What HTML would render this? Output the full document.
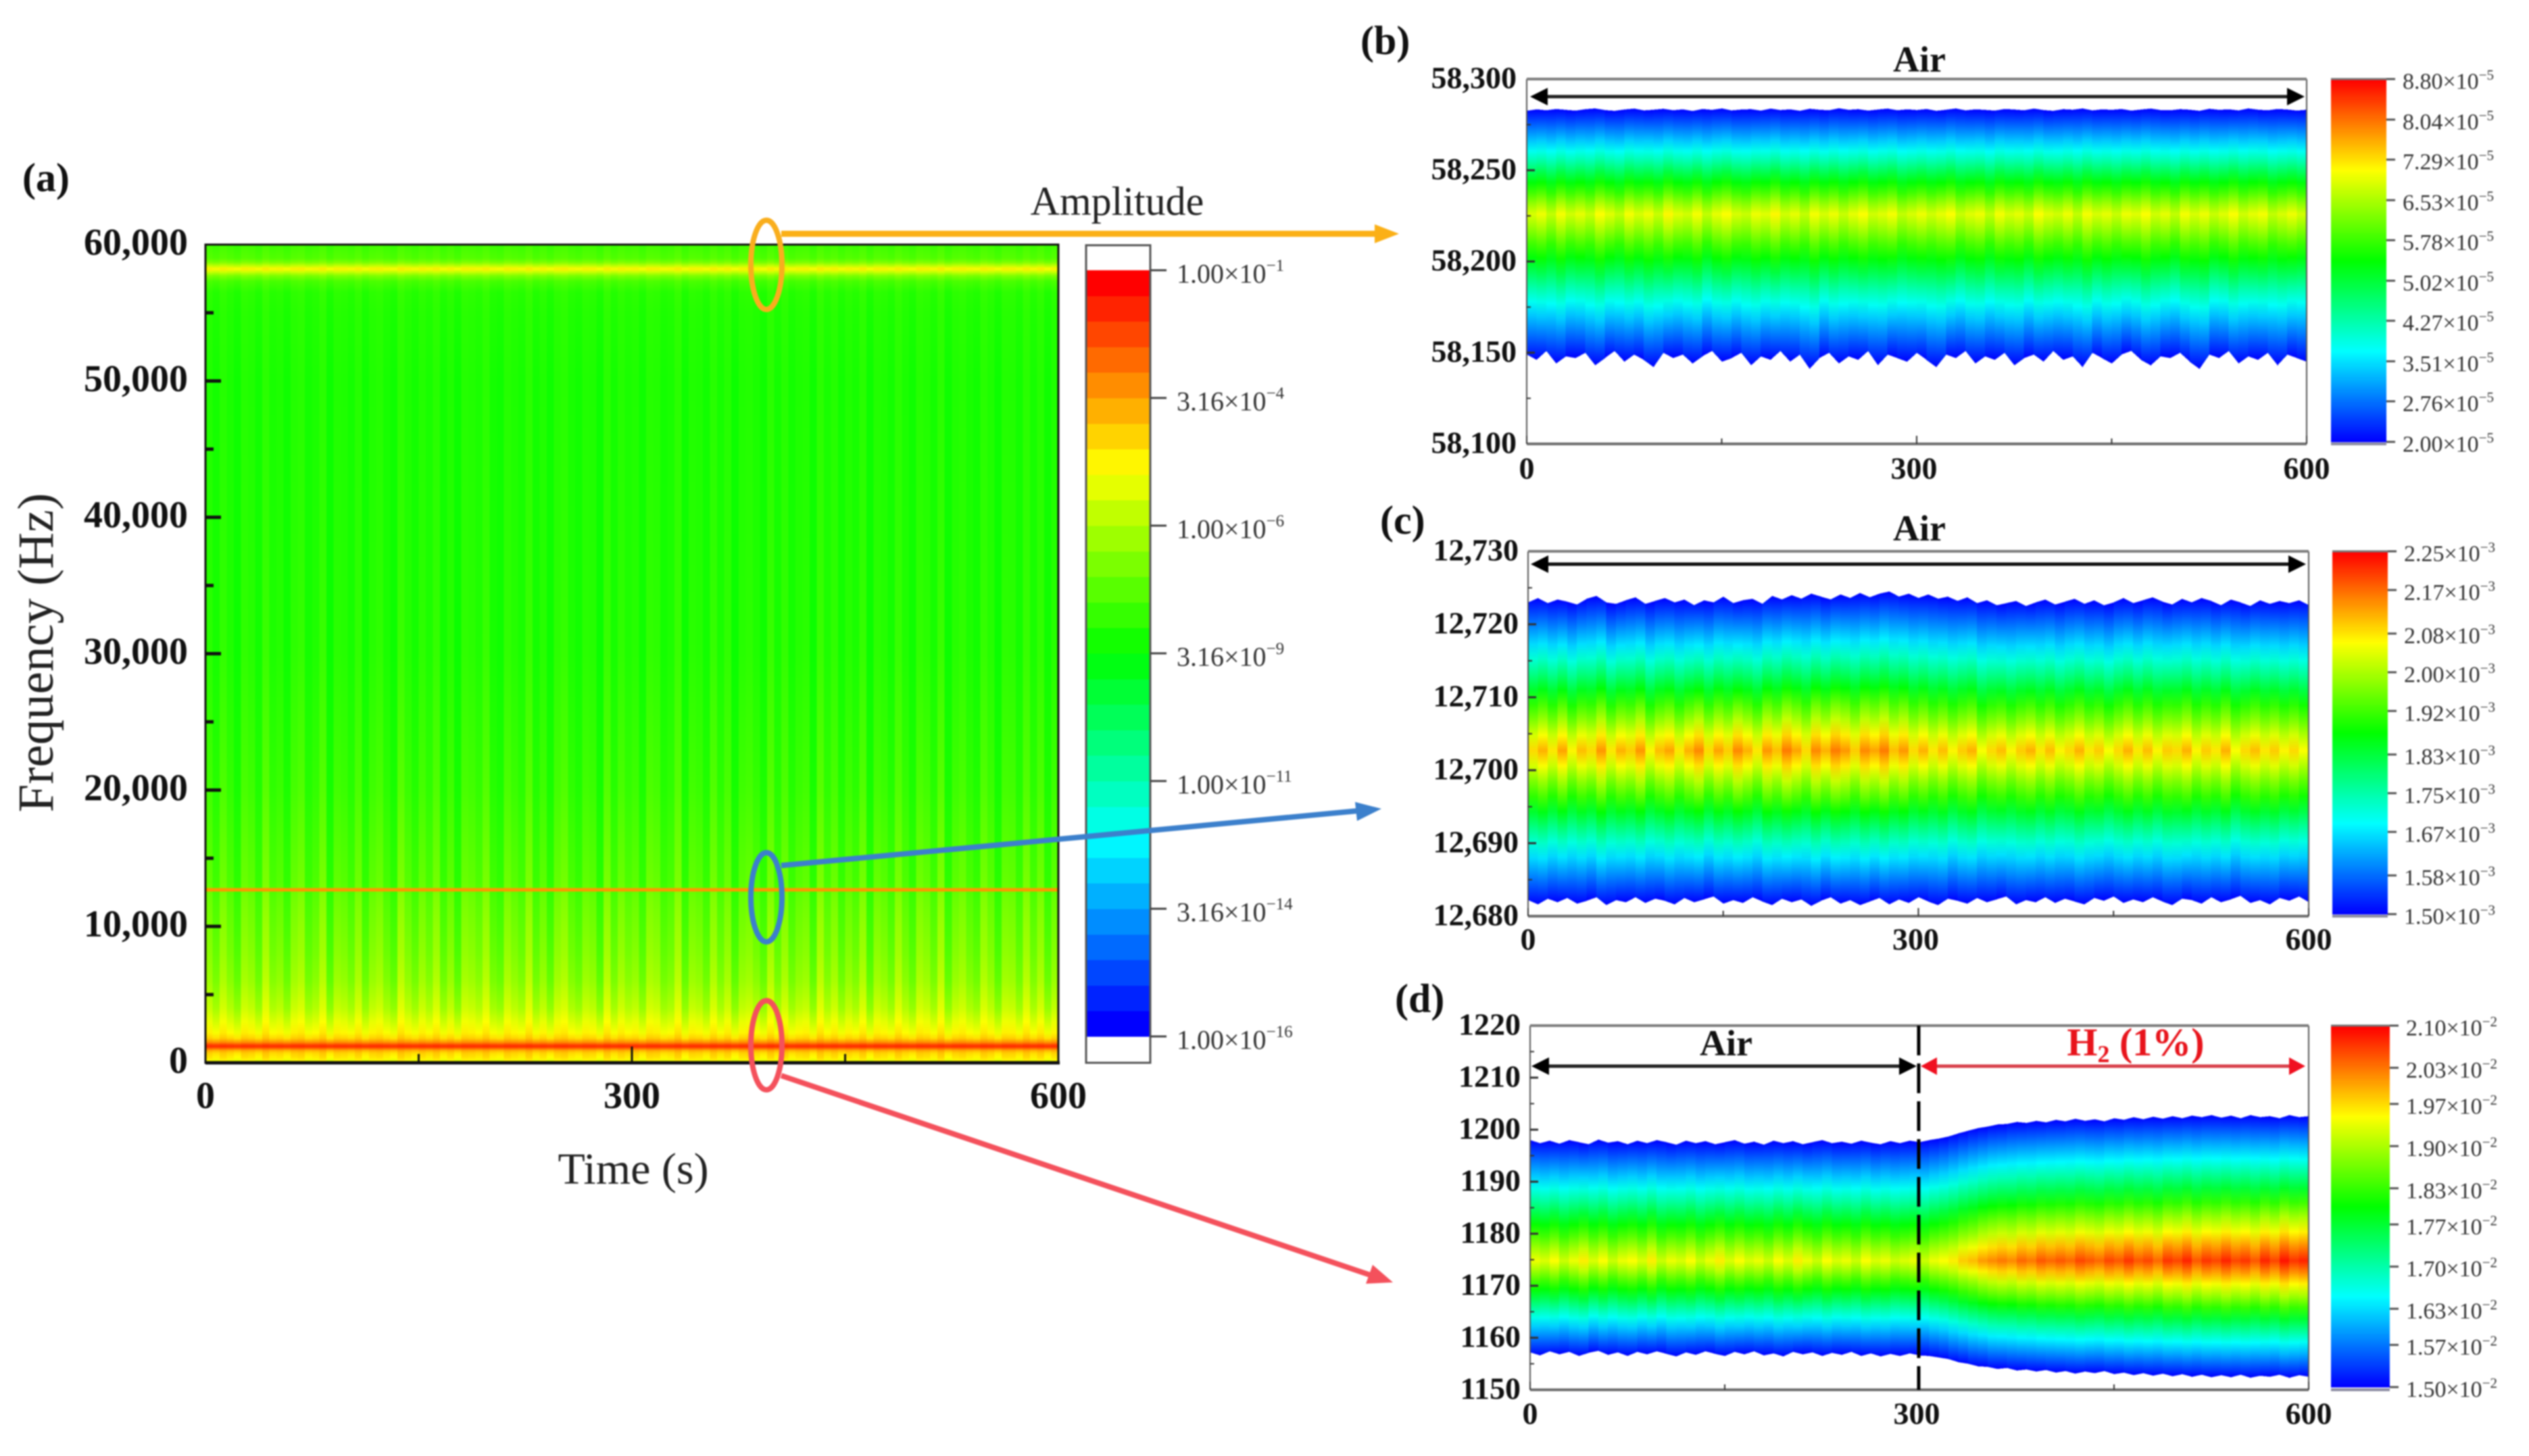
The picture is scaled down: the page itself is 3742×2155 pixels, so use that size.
<!DOCTYPE html>
<html lang="en">
<head>
<meta charset="utf-8">
<title>Spectrogram of resonance response in air and hydrogen</title>
<style>
html,body{margin:0;padding:0;background:#fff;}
svg{display:block;font-family:"Liberation Serif","Times New Roman",serif;filter:blur(1px);}
.tick{font-weight:bold;fill:#111;}
.cb{fill:#333;}
</style>
</head>
<body>
<svg id="figure" xmlns="http://www.w3.org/2000/svg" width="3742" height="2155" viewBox="0 0 3742 2155">
<rect width="3742" height="2155" fill="#fff"/>
<defs id="gradients"></defs>
<g id="panel-a"></g>
<g id="panel-b"></g>
<g id="panel-c"></g>
<g id="panel-d"></g>

<text x="33" y="283" font-size="60" font-weight="bold" fill="#111">(a)</text>
<text x="2013" y="80" font-size="60" font-weight="bold" fill="#111">(b)</text>
<text x="2042" y="790" font-size="60" font-weight="bold" fill="#111">(c)</text>
<text x="2064" y="1498" font-size="60" font-weight="bold" fill="#111">(d)</text>
<text transform="translate(78,966) rotate(-90)" text-anchor="middle" font-size="75" fill="#222">Frequency (Hz)</text>
<text x="937" y="1752" text-anchor="middle" font-size="66" fill="#222">Time (s)</text>
<text x="1653" y="318" text-anchor="middle" font-size="60" fill="#222">Amplitude</text>

<text x="2840" y="106" text-anchor="middle" font-size="54" font-weight="bold" fill="#111">Air</text>
<line x1="2280" y1="143" x2="3396" y2="143" stroke="#222" stroke-width="5"/>
<polygon points="2264,143 2290,130 2290,156" fill="#000"/>
<polygon points="3410,143 3384,130 3384,156" fill="#000"/>

<text x="2840" y="800" text-anchor="middle" font-size="54" font-weight="bold" fill="#111">Air</text>
<line x1="2280" y1="835" x2="3396" y2="835" stroke="#111" stroke-width="5"/>
<polygon points="2265,835 2291,822 2291,848" fill="#000"/>
<polygon points="3412,835 3386,822 3386,848" fill="#000"/>

<text x="2554" y="1562" text-anchor="middle" font-size="54" font-weight="bold" fill="#111">Air</text>
<text x="3160" y="1562" text-anchor="middle" font-size="58" font-weight="bold" fill="#e8141c">H<tspan font-size="36" dy="10">2</tspan><tspan dy="-10"> (1%)</tspan></text>
<line x1="2280" y1="1578" x2="2822" y2="1578" stroke="#222" stroke-width="5"/>
<polygon points="2266,1578 2292,1565 2292,1591" fill="#000"/>
<polygon points="2836,1578 2810,1565 2810,1591" fill="#000"/>
<line x1="2856" y1="1578" x2="3396" y2="1578" stroke="#d8404a" stroke-width="5"/>
<polygon points="2842,1578 2866,1565 2866,1591" fill="#f01020"/>
<polygon points="3411,1578 3387,1565 3387,1591" fill="#f01020"/>
<line x1="2839" y1="1518" x2="2839" y2="2057" stroke="#000" stroke-width="5" stroke-dasharray="44 12"/>

<ellipse cx="1134" cy="392" rx="23" ry="66" fill="none" stroke="#f9ae1d" stroke-width="8"/>
<line x1="1156" y1="346" x2="2036" y2="346" stroke="#fbb016" stroke-width="9"/>
<polygon points="2070,346 2034,332 2034,360" fill="#fbb016"/>

<ellipse cx="1134" cy="1328" rx="23" ry="66" fill="none" stroke="#3c80cc" stroke-width="8"/>
<line x1="1156" y1="1281" x2="2010" y2="1200" stroke="#3c80cc" stroke-width="8"/>
<polygon points="2044,1197 2005,1187 2008,1215" fill="#3c80cc"/>

<ellipse cx="1134" cy="1547" rx="23" ry="66" fill="none" stroke="#f4515c" stroke-width="8"/>
<line x1="1156" y1="1592" x2="2030" y2="1888" stroke="#f4515c" stroke-width="8"/>
<polygon points="2061,1898 2031,1872 2021,1900" fill="#f4515c"/>
</svg>

<script>
/* ---------- Panel (a) data ---------- */
const aFrequencies = [60000,59000,58700,58400,58216,58000,57700,57300,56500,55000,50000,40000,30000,20000,15000,13200,12850,12780,12590,12520,12000,10000,8000,6000,4000,3000,2200,1800,1500,1300,1189,1050,900,700,400,100,0];
const aLogAmplitude = [-7.6,-7.3,-6.7,-5.5,-4.6,-5.5,-6.7,-7.45,-7.9,-8.0,-8.1,-8.05,-8.0,-7.7,-7.4,-7.3,-7.2,-3.2,-3.2,-7.2,-7.1,-6.9,-6.7,-6.4,-5.8,-5.2,-4.7,-4.15,-3.1,-1.9,-1.6,-2.5,-3.55,-4.15,-4.45,-4.9,-5.2];
const aStripeStrength = [.15,.15,.15,.15,.15,.15,.15,.15,.2,.2,.25,.3,.4,.55,.65,.7,.7,0,0,.7,.7,.75,.75,.75,.7,.55,.4,.3,.15,.1,.05,.1,.2,.3,.35,.35,.35];
const aTimeJitter = [.3,-.4,.6,-.1,-.8,.5,.2,-.6,.9,-.2,.1,-.7,.4,.7,-.5,-.1,.8,-.9,.3,.1,-.4,.6,-.7,.2,.5,-.3,-.8,.9,.1,-.5,.4,-.2,.7,-.6,.2,-.9,.5,.3,-.1,.8,-.4,-.7,.6,.1,-.3,.9,-.5,.2,-.8,.4,.7,-.2,-.6,.3,.1,-.9,.8,-.4,.5,-.1,.2,-.7,.6,.4,-.5,-.2,.9,-.8,.3,.1,-.6,.7,-.3,.5,-.9,.2,.4,-.1,-.7,.8,-.4,.6,-.5,.1,.3,-.8,.9,-.2,.5,-.6,.2,-.3,.7,-.9,.4,.1,-.5,.8,-.1,-.7,.6,.3,-.4,.9,-.8,.2,.5,-.2,-.6,.7,.1,-.9,.4,.3,-.5,.8,-.3,.6,-.7,.2];
const aYTicks = [0,10000,20000,30000,40000,50000,60000];
const aYTickLabels = ['0','10,000','20,000','30,000','40,000','50,000','60,000'];
const aYMinorTicks = [5000,15000,25000,35000,45000,55000];
const aXTicks = [0,300,600];
const aXMinorTicks = [150,450];
const aColorbarExponents = [-1,-3.5,-6,-8.5,-11,-13.5,-16];
const aColorbarLabels = [['1.00','\u22121'],['3.16','\u22124'],['1.00','\u22126'],['3.16','\u22129'],['1.00','\u221211'],['3.16','\u221214'],['1.00','\u221216']];
const aColorLevels = 30;

/* ---------- Panel (b) data: 58,100–58,300 Hz; edges in Hz above 58,000 ---------- */
const bBaseHz = 58000;
const bPeakOffset = 226;
const bUpperEdge = [282.6,283.4,282.9,283.6,283.1,282.7,283.5,283.9,283,282.6,283.3,283.8,282.8,283.2,283.7,282.9,283.4,282.5,283.6,283.1,283.9,282.8,283.3,283.5,282.7,283.8,283,283.4,282.6,283.7,283.2,282.9,284,283.1,283.5,282.7,283.3,283.8,282.9,283.4,283,283.6,282.6,283.2,283.9,282.8,283.4,283.1,282.7,283.6,283.3,282.9,283.8,283,282.6,283.5,283.2,283.9,282.8,283.4,283.1,283.6,282.7,283.3,283.8,283,282.9,283.5,283.2,282.6,283.7,283.1,283.4,282.8,283.9,283.2,282.9,283.6,283.3,282.7,283.2];
const bLowerEdge = [149,146,151,144,148,147,150,143,147,151,145,149,146,142,150,147,149,144,148,151,145,147,150,143,148,146,151,145,149,141,147,150,144,148,146,151,143,149,147,145,150,146,142,149,147,151,144,148,146,150,143,147,149,145,151,146,148,142,150,147,144,149,151,146,143,148,147,150,145,141,149,147,151,144,148,146,150,143,149,147,145];
const bPeakAmplitude = [6.85,7.0,6.7,7.05,6.8,6.95,6.75,7.1,6.9,6.7,7.05,6.85,7.0,6.75,7.15,6.9,6.8,7.05,6.7,6.95,7.1,6.85,6.75,7.0,6.9,7.15,6.8,6.95,6.7,7.05,6.85,7.0,6.75,6.95,7.1,6.8,6.9,7.05,6.7,6.85,7.0,6.8,6.95,7.1,6.75,6.9,7.0,6.7,7.05,6.85,6.95,6.75,7.1,6.9,6.8,7.0,6.7,7.05,6.85,6.95,6.75,7.0,6.9,7.1,6.8,6.95,6.7,7.05,6.85,7.0,6.75,6.9,7.1,6.8,6.95,7.05,6.7,6.85,7.0,6.8,6.9];
const bYTicks = [58100,58150,58200,58250,58300];
const bYTickLabels = ['58,100','58,150','58,200','58,250','58,300'];
const bYMinorTicks = [58125,58175,58225,58275];
const bColorbarValues = [8.80,8.04,7.29,6.53,5.78,5.02,4.27,3.51,2.76,2.00];

/* ---------- Panel (c) data: 12,680–12,730 Hz; edges in Hz above 12,680 ---------- */
const cBaseHz = 12680;
const cPeakOffset = 22.7;
const cUpperEdge = [43,43.6,42.9,43.4,43.1,42.7,43.5,43.9,43,42.8,43.3,43.7,42.8,43.2,43.6,43,43.4,42.6,43.3,43,43.8,42.9,43.3,43.5,42.8,43.9,43.4,44,43.5,44.2,43.8,43.4,44.1,43.6,44.3,43.7,44.2,44.5,43.8,44.2,43.6,44.1,43.5,43.8,43.2,43.7,42.9,43.3,42.6,42.9,43.2,42.5,43,43.4,42.7,43.1,43.5,42.8,43.3,42.6,43,43.6,42.9,43.3,43.7,43.1,42.7,43.5,43,43.6,43.2,42.6,43.4,43,42.5,43.3,42.8,43.2,42.9,43.3,42.6];
const cLowerEdge = [2.2,1.6,2.4,1.9,2.5,1.7,2.1,2.6,1.5,2.2,1.9,2.6,1.8,2.4,2.1,1.6,2.5,1.9,2.3,2.7,1.7,2.2,1.8,2.6,2,1.5,2.4,1.9,2.3,1.4,2.1,2.6,1.7,2.2,1.5,2,2.5,1.6,2.3,1.8,2.6,2,1.5,2.4,2.1,1.7,2.5,1.9,2.3,2.7,1.6,2.2,1.9,2.6,1.8,2.4,2,1.6,2.5,2.1,2.7,1.8,2.3,1.9,2.6,2,1.5,2.4,2.2,1.7,2.6,1.9,2.3,2.8,1.8,2.2,1.6,2.5,2.1,2.7,1.9];
const cPeakAmplitude = [2.09,2.12,2.08,2.13,2.07,2.11,2.09,2.14,2.08,2.12,2.1,2.14,2.07,2.11,2.13,2.08,2.12,2.15,2.09,2.13,2.1,2.15,2.12,2.08,2.14,2.11,2.16,2.13,2.09,2.15,2.12,2.16,2.14,2.1,2.15,2.13,2.16,2.11,2.14,2.09,2.12,2.08,2.11,2.07,2.1,2.12,2.06,2.09,2.11,2.07,2.1,2.12,2.08,2.11,2.07,2.09,2.12,2.08,2.1,2.06,2.09,2.12,2.08,2.11,2.07,2.1,2.09,2.12,2.07,2.1,2.08,2.12,2.06,2.09,2.11,2.08,2.1,2.07,2.09,2.06,2.08];
const cYTicks = [12680,12690,12700,12710,12720,12730];
const cYTickLabels = ['12,680','12,690','12,700','12,710','12,720','12,730'];
const cYMinorTicks = [12685,12695,12705,12715,12725];
const cColorbarValues = [2.25,2.17,2.08,2.00,1.92,1.83,1.75,1.67,1.58,1.50];

/* ---------- Panel (d) data: 1150–1220 Hz ---------- */
const dBaseHz = 0;
const dPeakOffset = 1174.8;
const dUpperEdge = [1198,1197.4,1197.9,1197.3,1198,1197.6,1197.2,1198.1,1197.5,1197.8,1197.2,1197.9,1197.4,1198,1197.6,1197.1,1197.9,1197.4,1197.8,1197.2,1197.6,1198,1197.3,1197.7,1197.1,1197.9,1197.4,1197.8,1197.2,1197.6,1198,1197.4,1197.7,1197.3,1197.9,1197.5,1197.2,1197.8,1197.4,1197.9,1197.6,1198,1198.3,1198.7,1199.3,1199.8,1200.3,1200.6,1201,1201.1,1201.5,1201.3,1201.7,1201.4,1201.9,1201.6,1202.1,1201.7,1202,1201.6,1202.2,1201.9,1202.4,1202,1202.5,1202.1,1202.6,1202.2,1202.7,1202.4,1202.8,1202.3,1202.7,1202.2,1202.8,1202.4,1202.6,1202.2,1202.8,1202.4,1202.6];
const dLowerEdge = [1157.2,1156.6,1157.4,1156.8,1157.3,1156.5,1157.1,1157.5,1156.7,1157.2,1156.5,1157.3,1156.8,1157.4,1156.9,1156.4,1157.2,1156.7,1157.4,1156.9,1156.5,1157.3,1156.8,1157.4,1156.6,1157,1156.4,1157.3,1156.8,1157.2,1156.5,1157.1,1156.7,1157.3,1156.5,1157,1156.4,1156.9,1156.5,1157,1156.6,1156.5,1156.2,1155.9,1155.3,1155,1154.5,1154.4,1154,1154.2,1153.7,1153.9,1153.5,1153.8,1153.3,1153.6,1153.1,1153.5,1153.2,1153.6,1153,1153.3,1152.8,1153.2,1152.7,1153.1,1152.6,1153,1152.5,1152.9,1152.4,1152.8,1152.4,1152.9,1152.3,1152.7,1152.5,1152.9,1152.3,1152.8,1152.5];
const dPeakAmplitude = [1.94,1.93,1.95,1.92,1.94,1.96,1.93,1.95,1.92,1.94,1.95,1.93,1.96,1.92,1.94,1.93,1.95,1.92,1.94,1.96,1.93,1.95,1.93,1.94,1.92,1.95,1.93,1.96,1.94,1.92,1.95,1.93,1.94,1.92,1.95,1.93,1.94,1.92,1.93,1.94,1.92,1.94,1.95,1.96,1.98,1.99,2.01,2.02,2.03,2.02,2.04,2.03,2.05,2.04,2.05,2.04,2.06,2.05,2.04,2.06,2.05,2.07,2.05,2.06,2.04,2.07,2.06,2.08,2.05,2.07,2.06,2.08,2.06,2.07,2.05,2.08,2.06,2.09,2.07,2.08,2.09];
const dYTicks = [1150,1160,1170,1180,1190,1200,1210,1220];
const dYTickLabels = ['1150','1160','1170','1180','1190','1200','1210','1220'];
const dYMinorTicks = [1155,1165,1175,1185,1195,1205,1215];
const dColorbarValues = [2.10,2.03,1.97,1.90,1.83,1.77,1.70,1.63,1.57,1.50];

/* Shared: amplitude fall-off (fraction of peak height) from peak (first) to band edge (last) */
const bandShape = [1,.9,.79,.69,.58,.47,.37,.27,.18,.09,0];
const zoomXTicks = [0,300,600];
const zoomXMinorTicks = [150,450];

const NS = 'http://www.w3.org/2000/svg';
const defs = document.getElementById('gradients');
let gradientId = 0;

function make(tag, attrs, parent) {
  const node = document.createElementNS(NS, tag);
  for (const key in attrs) node.setAttribute(key, attrs[key]);
  parent.appendChild(node);
  return node;
}
function rainbow(t) {
  t = Math.max(0, Math.min(1, t));
  let r, g, b;
  if (t < .25) { r = 0; g = t * 4 * 255; b = 255; }
  else if (t < .5) { r = 0; g = 255; b = 255 * (1 - (t - .25) * 4); }
  else if (t < .75) { r = (t - .5) * 4 * 255; g = 255; b = 0; }
  else { r = 255; g = 255 * (1 - (t - .75) * 4); b = 0; }
  return 'rgb(' + Math.round(r) + ',' + Math.round(g) + ',' + Math.round(b) + ')';
}
function linearScale(d0, d1, r0, r1) {
  return v => r0 + (v - d0) / (d1 - d0) * (r1 - r0);
}
function tickLabel(parent, x, y, text, anchor, size, name) {
  const t = make('text', { x: x, y: y, 'text-anchor': anchor, 'font-size': size, 'dominant-baseline': 'central', class: 'tick' }, parent);
  t.textContent = text;
  
  
  return t;
}
function colorbarLabel(parent, x, y, mantissa, exponent, size) {
  const t = make('text', { x: x, y: y, 'font-size': size, 'dominant-baseline': 'central', class: 'cb' }, parent);
  
  
  t.appendChild(document.createTextNode(mantissa + '\u00d710'));
  const sup = make('tspan', { 'font-size': Math.round(size * .62), dy: -Math.round(size * .3) }, t);
  sup.textContent = exponent;
  return t;
}
function drawTick(parent, x1, y1, x2, y2, width, color) {
  const l = make('line', { x1: x1, y1: y1, x2: x2, y2: y2, stroke: color, 'stroke-width': width }, parent);
  
  
}

/* ---------- Panel (a) ---------- */
(function drawPanelA() {
  const g = document.getElementById('panel-a');
  const L = 304, R = 1566, T = 362, B = 1573;
  const x = linearScale(0, 600, L, R);
  const y = linearScale(0, 60000, B, T);
  const colW = (R - L) / aTimeJitter.length;
  aTimeJitter.forEach((jit, c) => {
    const id = 'ga' + (gradientId++);
    const grad = make('linearGradient', { id: id, gradientUnits: 'userSpaceOnUse', x1: 0, x2: 0, y1: T, y2: B }, defs);
    aFrequencies.forEach((f, r) => {
      const logA = aLogAmplitude[r] + jit * aStripeStrength[r];
      make('stop', { offset: ((y(f) - T) / (B - T)).toFixed(5), 'stop-color': rainbow((logA + 16) / 15) }, grad);
    });
    const rect = make('rect', { x: (L + c * colW).toFixed(2), y: T, width: (colW + .6).toFixed(2), height: B - T, fill: 'url(#' + id + ')', 'shape-rendering': 'crispEdges' }, g);
    
    
  });
  const frame = make('rect', { x: L, y: T, width: R - L, height: B - T, fill: 'none', stroke: '#111', 'stroke-width': 3 }, g);
  
  
  const base = make('line', { x1: L, x2: R + 2, y1: B, y2: B, stroke: '#111', 'stroke-width': 5 }, g);
  
  
  aYTicks.forEach((v, i) => {
    if (i > 0 && i < aYTicks.length - 1) drawTick(g, L, y(v), L + 23, y(v), 5, '#111');
    tickLabel(g, 278, y(v) - 3, aYTickLabels[i], 'end', 56, 'y-tick-label');
  });
  aYMinorTicks.forEach(v => drawTick(g, L, y(v), L + 12, y(v), 5, '#111'));
  aXTicks.forEach(v => {
    drawTick(g, x(v), B, x(v), B - 24, 3, '#111');
    tickLabel(g, x(v), 1622, String(v), 'middle', 56, 'x-tick-label');
  });
  aXMinorTicks.forEach(v => drawTick(g, x(v), B, x(v), B - 13, 3, '#111'));

  /* colorbar */
  const cbL = 1607, cbR = 1702, cbT = 363, cbB = 1573, top = 400, bot = 1534;
  const cy = linearScale(-16, -1, bot, top);
  const h = (bot - top) / aColorLevels;
  for (let i = 0; i < aColorLevels; i++) {
    const band = make('rect', { x: cbL, y: (bot - (i + 1) * h).toFixed(2), width: cbR - cbL, height: (h + .5).toFixed(2), fill: rainbow(i / (aColorLevels - 1)), 'shape-rendering': 'crispEdges' }, g);
    
    
  }
  const cbFrame = make('rect', { x: cbL, y: cbT, width: cbR - cbL, height: cbB - cbT, fill: 'none', stroke: '#555', 'stroke-width': 3 }, g);
  
  
  aColorbarExponents.forEach((v, i) => {
    drawTick(g, cbR, cy(v), 1726, cy(v), 3, '#444');
    colorbarLabel(g, 1741, cy(v) + 5, aColorbarLabels[i][0], aColorbarLabels[i][1], 40);
  });
})();

/* ---------- Panels (b), (c), (d) ---------- */
function drawZoomPanel(cfg) {
  const g = document.getElementById(cfg.id);
  const x = linearScale(0, 600, cfg.L, cfg.R);
  const y = linearScale(cfg.yMin, cfg.yMax, cfg.B, cfg.T);
  const amp = v => (v - cfg.cMin) / (cfg.cMax - cfg.cMin);
  const n = cfg.upper.length;
  const peakFreq = cfg.base + cfg.peak;
  const m = bandShape.length - 1;
  for (let i = 0; i < n - 1; i++) {
    const time = i * 600 / (n - 1);
    const timeNext = (i + 1) * 600 / (n - 1);
    const fU = cfg.base + cfg.upper[i], fL = cfg.base + cfg.lower[i];
    const fU2 = cfg.base + cfg.upper[i + 1], fL2 = cfg.base + cfg.lower[i + 1];
    const yU = Math.min(y(fU), y(fU2)), yL = Math.max(y(fL), y(fL2));
    const id = 'gz' + (gradientId++);
    const grad = make('linearGradient', { id: id, gradientUnits: 'userSpaceOnUse', x1: 0, x2: 0, y1: yU, y2: yL }, defs);
    const tPeak = amp(cfg.peakAmp[i]);
    const yP = y(peakFreq);
    for (let k = m; k > 0; k--) {
      const yy = yP + (yU - yP) * k / m;
      make('stop', { offset: ((yy - yU) / (yL - yU)).toFixed(4), 'stop-color': rainbow(tPeak * bandShape[k]) }, grad);
    }
    for (let k = 0; k <= m; k++) {
      const yy = yP + (yL - yP) * k / m;
      make('stop', { offset: ((yy - yU) / (yL - yU)).toFixed(4), 'stop-color': rainbow(tPeak * bandShape[k]) }, grad);
    }
    const x0 = x(time), x1 = x(timeNext) + .6;
    const pts = [x0, y(fU), x1, y(fU2), x1, y(fL2), x0, y(fL)].map(v => v.toFixed(1));
    const col = make('polygon', { points: pts.join(' '), fill: 'url(#' + id + ')', 'shape-rendering': 'crispEdges' }, g);
    
    
  }
  /* frame */
  const sideL = make('line', { x1: cfg.L, x2: cfg.L, y1: cfg.T, y2: cfg.B, stroke: '#555', 'stroke-width': 2 }, g);
  
  
  const sideR = make('line', { x1: cfg.R, x2: cfg.R, y1: cfg.T, y2: cfg.B, stroke: '#555', 'stroke-width': 2 }, g);
  
  
  const lineT = make('line', { x1: cfg.L, x2: cfg.R, y1: cfg.T, y2: cfg.T, stroke: '#7d7d7d', 'stroke-width': 4 }, g);
  
  
  const lineB = make('line', { x1: cfg.L, x2: cfg.R, y1: cfg.B, y2: cfg.B, stroke: '#6d6d6d', 'stroke-width': 4 }, g);
  
  
  /* ticks */
  cfg.yTicks.forEach((v, i) => {
    if (v !== cfg.yMin && v !== cfg.yMax) drawTick(g, cfg.L, y(v), cfg.L + 12, y(v), 3, '#333');
    tickLabel(g, cfg.labelRight, y(v) - 2, cfg.yLabels[i], 'end', 46, 'y-tick-label');
  });
  cfg.yMinor.forEach(v => drawTick(g, cfg.L, y(v), cfg.L + 6, y(v), 2, '#333'));
  zoomXTicks.forEach(v => {
    drawTick(g, x(v), cfg.B, x(v), cfg.B - 12, 2, '#333');
    tickLabel(g, x(v) - (v === 300 ? 4 : 0), cfg.xLabelY, String(v), 'middle', 46, 'x-tick-label');
  });
  zoomXMinorTicks.forEach(v => drawTick(g, x(v), cfg.B, x(v), cfg.B - 8, 2, '#333'));
  /* colorbar */
  const levels = 270;
  const cy = linearScale(cfg.cMin, cfg.cMax, cfg.cbB, cfg.T);
  const h = (cfg.cbB - cfg.T) / levels;
  for (let i = 0; i < levels; i++) {
    const band = make('rect', { x: cfg.cbL, y: (cfg.cbB - (i + 1) * h).toFixed(2), width: cfg.cbR - cfg.cbL, height: (h + .5).toFixed(2), fill: rainbow(i / (levels - 1)), 'shape-rendering': 'crispEdges' }, g);
    
    
  }
  const cbEdge = make('line', { x1: cfg.cbL, x2: cfg.cbR, y1: cfg.B, y2: cfg.B, stroke: '#8a8aa0', 'stroke-width': 4 }, g);
  
  
  const cbTop = make('line', { x1: cfg.cbL, x2: cfg.cbR, y1: cfg.T, y2: cfg.T, stroke: '#777', 'stroke-width': 3 }, g);
  
  
  cfg.cbValues.forEach(v => {
    drawTick(g, cfg.cbR, cy(v), cfg.cbR + 13, cy(v), 3, '#555');
    colorbarLabel(g, cfg.cbR + 24, cy(v) + 4, v.toFixed(2), cfg.exp, 34);
  });
}

drawZoomPanel({ id: 'panel-b', L: 2259, R: 3413, T: 117, B: 657, yMin: 58100, yMax: 58300, base: bBaseHz, peak: bPeakOffset, upper: bUpperEdge, lower: bLowerEdge, peakAmp: bPeakAmplitude, cMin: 2.00, cMax: 8.80, yTicks: bYTicks, yLabels: bYTickLabels, yMinor: bYMinorTicks, labelRight: 2244, xLabelY: 693, cbL: 3449, cbR: 3531, cbB: 654, cbValues: bColorbarValues, exp: '\u22125' });
drawZoomPanel({ id: 'panel-c', L: 2261, R: 3416, T: 816, B: 1356, yMin: 12680, yMax: 12730, base: cBaseHz, peak: cPeakOffset, upper: cUpperEdge, lower: cLowerEdge, peakAmp: cPeakAmplitude, cMin: 1.50, cMax: 2.25, yTicks: cYTicks, yLabels: cYTickLabels, yMinor: cYMinorTicks, labelRight: 2247, xLabelY: 1390, cbL: 3451, cbR: 3533, cbB: 1353, cbValues: cColorbarValues, exp: '\u22123' });
drawZoomPanel({ id: 'panel-d', L: 2264, R: 3416, T: 1518, B: 2057, yMin: 1150, yMax: 1220, base: dBaseHz, peak: dPeakOffset, upper: dUpperEdge, lower: dLowerEdge, peakAmp: dPeakAmplitude, cMin: 1.50, cMax: 2.10, yTicks: dYTicks, yLabels: dYTickLabels, yMinor: dYMinorTicks, labelRight: 2250, xLabelY: 2092, cbL: 3449, cbR: 3536, cbB: 2053, cbValues: dColorbarValues, exp: '\u22122' });
</script>
</body>
</html>
